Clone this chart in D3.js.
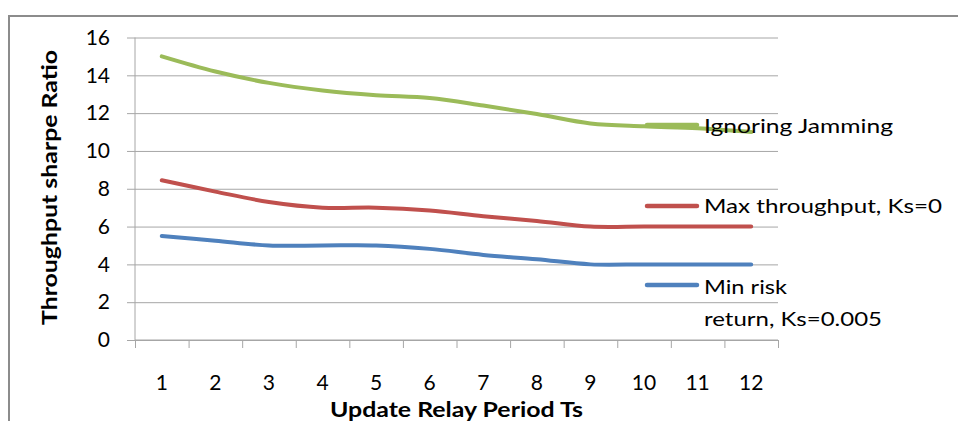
<!DOCTYPE html>
<html>
<head>
<meta charset="utf-8">
<script src="https://cdn.jsdelivr.net/npm/d3@7"></script>
<style>
  html, body { margin: 0; padding: 0; background: #fff; }
  svg { display: block; }
  text { font-family: Lato, "Open Sans", sans-serif; fill: #000; }
</style>
</head>
<body>
<svg id="chart" width="958" height="421"></svg>
<script>
// ---- data ----
const categories = [1, 2, 3, 4, 5, 6, 7, 8, 9, 10, 11, 12];
const ignoringJamming = [15.0, 14.2, 13.6, 13.2, 12.95, 12.8, 12.4, 11.95, 11.45, 11.3, 11.2, 11.0];
const maxThroughput = [8.45, 7.85, 7.3, 7.0, 7.0, 6.85, 6.55, 6.3, 6.0, 6.0, 6.0, 6.0];
const minRisk = [5.5, 5.25, 5.0, 5.0, 5.0, 4.82, 4.5, 4.27, 4.0, 4.0, 4.0, 4.0];
const yTicks = [0, 2, 4, 6, 8, 10, 12, 14, 16];
const seriesNames = ["Ignoring Jamming", "Max throughput, Ks=0", ["Min risk", "return, Ks=0.005"]];
const xTitle = "Update Relay Period Ts";
const yTitle = "Throughput sharpe Ratio";

// ---- layout ----
const svg = d3.select("#chart");
const pLeft = 135, pRight = 778, pTop = 37.5, pBottom = 340;
const gridColor = "#a6a6a6";

// chart frame
svg.append("rect")
  .attr("x", 9).attr("y", 16)
  .attr("width", 1000).attr("height", 500)
  .attr("fill", "none").attr("stroke", "#8c8c8c").attr("stroke-width", 2);

const x = d3.scaleBand().domain(categories).range([pLeft, pRight]).paddingInner(0).paddingOuter(0);
const xb = d3.scaleLinear().domain([0, categories.length]).range([pLeft, pRight]);
const y = d3.scaleLinear().domain([0, 16]).range([pBottom, pTop]);

// gridlines
svg.append("g")
  .attr("transform", `translate(${pLeft},0)`)
  .call(d3.axisLeft(y).tickValues(yTicks).tickSize(-(pRight - pLeft)).tickFormat(""))
  .call(g => g.select(".domain").remove())
  .call(g => g.selectAll("line").attr("stroke", gridColor).attr("stroke-width", 1));

// y axis
svg.append("g")
  .attr("transform", `translate(${pLeft},0)`)
  .call(d3.axisLeft(y).tickValues(yTicks).tickSize(8).tickPadding(17))
  .call(g => g.select(".domain").attr("stroke", gridColor).attr("d", `M0,${pTop}V${pBottom}`))
  .call(g => g.selectAll("line").attr("stroke", gridColor))
  .call(g => g.selectAll("text").attr("font-size", 21).attr("font-family", "Lato").attr("fill", "#222"));

// x axis boundary ticks
svg.append("g")
  .attr("transform", `translate(0,${pBottom})`)
  .call(d3.axisBottom(xb).tickValues(d3.range(0, categories.length + 1)).tickSize(8).tickFormat(""))
  .call(g => g.select(".domain").attr("stroke", gridColor).attr("d", `M${pLeft},0H${pRight}`))
  .call(g => g.selectAll("line").attr("stroke", gridColor));

// x axis labels
svg.append("g")
  .attr("transform", `translate(0,${pBottom})`)
  .call(d3.axisBottom(x).tickSize(0).tickPadding(35))
  .call(g => g.select(".domain").remove())
  .call(g => g.selectAll("text").attr("font-size", 21).attr("font-family", "Lato").attr("fill", "#222"));

// lines
const series = [
  { name: seriesNames[0], values: ignoringJamming, color: "#9BBB59" },
  { name: seriesNames[1], values: maxThroughput, color: "#C0504D" },
  { name: seriesNames[2], values: minRisk, color: "#4F81BD" }
];
const line = d3.line()
  .x((d, i) => x(categories[i]) + x.bandwidth() / 2)
  .y(d => y(d))
  .curve(d3.curveCatmullRom.alpha(0.5));

svg.append("g").selectAll("path").data(series).join("path")
  .attr("d", d => line(d.values))
  .attr("fill", "none")
  .attr("stroke", d => d.color)
  .attr("stroke-width", 4)
  .attr("stroke-linecap", "round")
  .attr("stroke-linejoin", "round");

// legend
const legendRows = [
  { sy: 125, lines: [{ t: seriesNames[0], by: 133, w: 189 }] },
  { sy: 206, lines: [{ t: seriesNames[1], by: 213, w: 238 }] },
  { sy: 285, lines: [{ t: seriesNames[2][0], by: 294, w: 83 }, { t: seriesNames[2][1], by: 326, w: 178 }] }
];
const lg = svg.append("g");
legendRows.forEach((r, i) => {
  lg.append("line")
    .attr("x1", 647).attr("x2", 697).attr("y1", r.sy).attr("y2", r.sy)
    .attr("stroke", series[i].color).attr("stroke-width", 4.5).attr("stroke-linecap", "round");
  r.lines.forEach(l => {
    lg.append("text")
      .attr("x", 704).attr("y", l.by)
      .attr("font-size", 20)
      .attr("fill", "#222")
      .attr("textLength", l.w).attr("lengthAdjust", "spacingAndGlyphs")
      .text(l.t);
  });
});

// axis titles
svg.append("text")
  .attr("x", 456.5).attr("y", 417)
  .attr("text-anchor", "middle")
  .attr("font-size", 21).attr("font-weight", "bold")
  .attr("textLength", 253).attr("lengthAdjust", "spacingAndGlyphs")
  .text(xTitle);

svg.append("text")
  .attr("transform", "translate(57,187.5) rotate(-90)")
  .attr("text-anchor", "middle")
  .attr("font-size", 21).attr("font-weight", "bold")
  .attr("textLength", 275).attr("lengthAdjust", "spacingAndGlyphs")
  .text(yTitle);
</script>
</body>
</html>
